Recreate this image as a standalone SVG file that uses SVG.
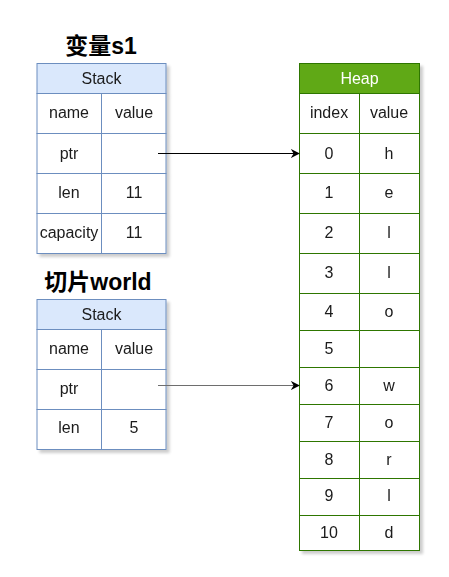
<svg xmlns="http://www.w3.org/2000/svg" width="449" height="577" viewBox="0 0 449 577">
<defs>
<filter id="sh" x="-10%" y="-10%" width="130%" height="130%">
<feGaussianBlur in="SourceAlpha" stdDeviation="1.5"/>
<feOffset dx="3" dy="3" result="b"/>
<feComponentTransfer><feFuncA type="linear" slope="0.2"/></feComponentTransfer>
<feMerge><feMergeNode/><feMergeNode in="SourceGraphic"/></feMerge>
</filter>
<marker id="ah" viewBox="0 0 10 10" refX="9" refY="5" markerWidth="9" markerHeight="9" markerUnits="userSpaceOnUse" orient="auto">
<path d="M0,0 L10,5 L0,10 L3,5 Z" fill="#000"/>
</marker>
</defs>
<style>
text{font-family:"Liberation Sans",Arial,sans-serif;font-size:16px;fill:#1a1a1a;text-anchor:middle;dominant-baseline:central}
.title{font-family:"Liberation Sans","Noto Sans CJK SC",sans-serif;font-size:23px;font-weight:bold;fill:#000;dominant-baseline:alphabetic}
.sh{fill:#dae8fc;stroke:#6c8ebf;stroke-width:1}
.sc{fill:#fff;stroke:#6c8ebf;stroke-width:1}
.hh{fill:#60a917;stroke:#2d7600;stroke-width:1}
.hc{fill:#fff;stroke:#2d7600;stroke-width:1}
.ht{fill:#fff}
.conn{fill:none;stroke-width:1.2}
</style>
<text class="title" x="101" y="54">变量s1</text>
<text class="title" x="98" y="290">切片world</text>
<g id="stack1" filter="url(#sh)">
<rect class="sh" x="37" y="63.5" width="129" height="30"/>
<rect class="sc" x="37" y="93.5" width="64.5" height="40"/><rect class="sc" x="101.5" y="93.5" width="64.5" height="40"/>
<rect class="sc" x="37" y="133.5" width="64.5" height="40"/><rect class="sc" x="101.5" y="133.5" width="64.5" height="40"/>
<rect class="sc" x="37" y="173.5" width="64.5" height="40"/><rect class="sc" x="101.5" y="173.5" width="64.5" height="40"/>
<rect class="sc" x="37" y="213.5" width="64.5" height="40"/><rect class="sc" x="101.5" y="213.5" width="64.5" height="40"/>
<text x="101.5" y="78.5">Stack</text>
<text x="69" y="112">name</text><text x="134" y="112">value</text>
<text x="69" y="153">ptr</text>
<text x="69" y="192">len</text><text x="134" y="192">11</text>
<text x="69" y="232">capacity</text><text x="134" y="232">11</text>
</g>
<g id="stack2" filter="url(#sh)">
<rect class="sh" x="37" y="299.5" width="129" height="30"/>
<rect class="sc" x="37" y="329.5" width="64.5" height="40"/><rect class="sc" x="101.5" y="329.5" width="64.5" height="40"/>
<rect class="sc" x="37" y="369.5" width="64.5" height="40"/><rect class="sc" x="101.5" y="369.5" width="64.5" height="40"/>
<rect class="sc" x="37" y="409.5" width="64.5" height="40"/><rect class="sc" x="101.5" y="409.5" width="64.5" height="40"/>
<text x="101.5" y="314.5">Stack</text>
<text x="69" y="348">name</text><text x="134" y="348">value</text>
<text x="69" y="388">ptr</text>
<text x="69" y="427">len</text><text x="134" y="427">5</text>
</g>
<g id="heap" filter="url(#sh)">
<rect class="hh" x="299.5" y="63.5" width="120" height="30"/>
<text class="ht" x="359.5" y="78.5">Heap</text>
<rect class="hc" x="299.5" y="93.5" width="60" height="40"/><rect class="hc" x="359.5" y="93.5" width="60" height="40"/>
<text x="329" y="112">index</text><text x="389" y="112">value</text>
<rect class="hc" x="299.5" y="133.5" width="60" height="40"/><rect class="hc" x="359.5" y="133.5" width="60" height="40"/>
<text x="329" y="153">0</text><text x="389" y="153">h</text>
<rect class="hc" x="299.5" y="173.5" width="60" height="40"/><rect class="hc" x="359.5" y="173.5" width="60" height="40"/>
<text x="329" y="192">1</text><text x="389" y="192">e</text>
<rect class="hc" x="299.5" y="213.5" width="60" height="40"/><rect class="hc" x="359.5" y="213.5" width="60" height="40"/>
<text x="329" y="232">2</text><text x="389" y="232">l</text>
<rect class="hc" x="299.5" y="253.5" width="60" height="40"/><rect class="hc" x="359.5" y="253.5" width="60" height="40"/>
<text x="329" y="272">3</text><text x="389" y="272">l</text>
<rect class="hc" x="299.5" y="293.5" width="60" height="37"/><rect class="hc" x="359.5" y="293.5" width="60" height="37"/>
<text x="329" y="311">4</text><text x="389" y="311">o</text>
<rect class="hc" x="299.5" y="330.5" width="60" height="37"/><rect class="hc" x="359.5" y="330.5" width="60" height="37"/>
<text x="329" y="348">5</text>
<rect class="hc" x="299.5" y="367.5" width="60" height="37"/><rect class="hc" x="359.5" y="367.5" width="60" height="37"/>
<text x="329" y="385">6</text><text x="389" y="385">w</text>
<rect class="hc" x="299.5" y="404.5" width="60" height="37"/><rect class="hc" x="359.5" y="404.5" width="60" height="37"/>
<text x="329" y="422">7</text><text x="389" y="422">o</text>
<rect class="hc" x="299.5" y="441.5" width="60" height="37"/><rect class="hc" x="359.5" y="441.5" width="60" height="37"/>
<text x="329" y="459">8</text><text x="389" y="459">r</text>
<rect class="hc" x="299.5" y="478.5" width="60" height="37"/><rect class="hc" x="359.5" y="478.5" width="60" height="37"/>
<text x="329" y="495">9</text><text x="389" y="495">l</text>
<rect class="hc" x="299.5" y="515.5" width="60" height="35"/><rect class="hc" x="359.5" y="515.5" width="60" height="35"/>
<text x="329" y="532">10</text><text x="389" y="532">d</text>
</g>
<g id="connectors">
<path class="conn" d="M158,153.5 L299,153.5" stroke="#000" marker-end="url(#ah)"/>
<path class="conn" d="M158,385.5 L299,385.5" stroke="#6e6e6e" marker-end="url(#ah)"/>
</g>
</svg>
